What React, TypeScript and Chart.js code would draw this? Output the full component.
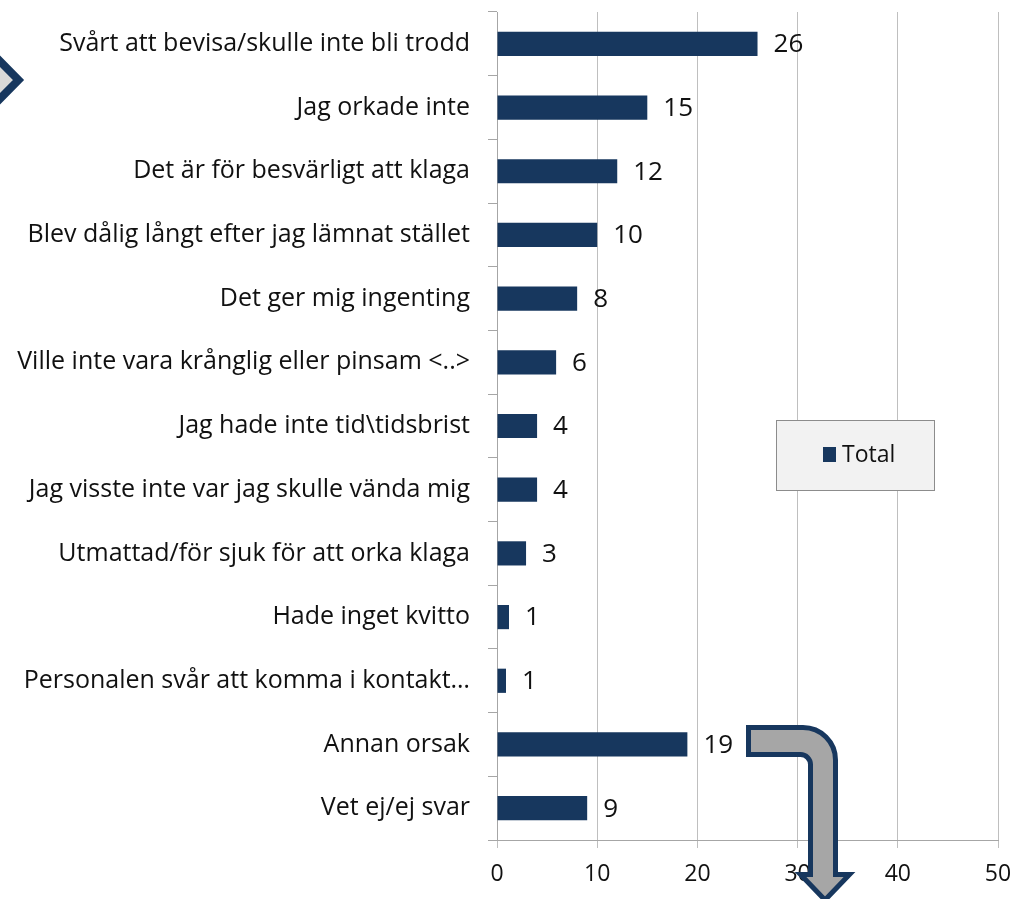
import React, { useEffect, useRef } from "react";
import { Chart, registerables } from "chart.js";

Chart.register(...registerables);

const categories = [
  "Svårt att bevisa/skulle inte bli trodd",
  "Jag orkade inte",
  "Det är för besvärligt att klaga",
  "Blev dålig långt efter jag lämnat stället",
  "Det ger mig ingenting",
  "Ville inte vara krånglig eller pinsam <..>",
  "Jag hade inte tid\\tidsbrist",
  "Jag visste inte var jag skulle vända mig",
  "Utmattad/för sjuk för att orka klaga",
  "Hade inget kvitto",
  "Personalen svår att komma i kontakt…",
  "Annan orsak",
  "Vet ej/ej svar",
];
const totalValues = [26, 15, 12, 10, 8, 5.9, 4, 4, 2.9, 1.2, 0.9, 19, 9];
const valueLabels = ["26", "15", "12", "10", "8", "6", "4", "4", "3", "1", "1", "19", "9"];
const xTicks = [0, 10, 20, 30, 40, 50];
const seriesName = "Total";

const NAVY = "#17375E";
const FONT = "'Open Sans', sans-serif";

const dataLabelPlugin = {
  id: "dataLabels",
  afterDatasetsDraw(chart: any) {
    const ctx = chart.ctx;
    const meta = chart.getDatasetMeta(0);
    ctx.save();
    ctx.font = `26px ${FONT}`;
    ctx.fillStyle = "#111";
    ctx.textAlign = "left";
    ctx.textBaseline = "middle";
    meta.data.forEach((el: any, i: number) => {
      ctx.fillText(valueLabels[i], el.x + 16, el.y + 1);
    });
    ctx.restore();
  },
};

const decorPlugin = {
  id: "decor",
  afterDraw(chart: any) {
    const ctx = chart.ctx;
    ctx.save();
    // legend box
    ctx.fillStyle = "#f2f2f2";
    ctx.strokeStyle = "#8c8c8c";
    ctx.lineWidth = 1;
    ctx.fillRect(776.5, 420.5, 158, 70);
    ctx.strokeRect(776.5, 420.5, 158, 70);
    ctx.fillStyle = NAVY;
    ctx.fillRect(823, 447, 13, 15);
    ctx.fillStyle = "#111";
    ctx.font = `23px ${FONT}`;
    ctx.textAlign = "left";
    ctx.textBaseline = "middle";
    ctx.fillText(chart.data.datasets[0].label, 842, 455);

    // left chevron
    ctx.beginPath();
    ctx.moveTo(-10, 51);
    ctx.lineTo(18.5, 80);
    ctx.lineTo(-10, 109);
    ctx.closePath();
    ctx.fillStyle = "#d9d9d9";
    ctx.fill();
    ctx.lineWidth = 8;
    ctx.lineJoin = "miter";
    ctx.strokeStyle = NAVY;
    ctx.stroke();

    // bent arrow
    ctx.beginPath();
    ctx.moveTo(748.5, 727.5);
    ctx.lineTo(803, 727.5);
    ctx.arc(803, 760, 32.5, -Math.PI / 2, 0);
    ctx.lineTo(835.5, 874.5);
    ctx.lineTo(849.5, 874.5);
    ctx.lineTo(825, 900);
    ctx.lineTo(800.5, 874.5);
    ctx.lineTo(810.5, 874.5);
    ctx.lineTo(810.5, 765);
    ctx.arcTo(810.5, 754.5, 800, 754.5, 10);
    ctx.lineTo(748.5, 754.5);
    ctx.closePath();
    ctx.fillStyle = "#a6a6a6";
    ctx.fill();
    ctx.lineWidth = 5;
    ctx.strokeStyle = NAVY;
    ctx.stroke();
    ctx.restore();
  },
};

export default function App() {
  const ref = useRef<HTMLCanvasElement | null>(null);
  useEffect(() => {
    if (!ref.current) return;
    const chart = new Chart(ref.current, {
      type: "bar",
      data: {
        labels: categories,
        datasets: [
          {
            label: seriesName,
            data: totalValues,
            backgroundColor: NAVY,
            borderWidth: 0,
            categoryPercentage: 1,
            barPercentage: 0.38,
          },
        ],
      },
      options: {
        indexAxis: "y",
        animation: false,
        responsive: false,
        maintainAspectRatio: false,
        layout: { padding: { top: 12, right: 16, left: 0, bottom: 0 } },
        plugins: { legend: { display: false }, tooltip: { enabled: false } },
        scales: {
          x: {
            min: 0,
            max: 50,
            afterBuildTicks(scale: any) {
              scale.ticks = xTicks.map((v) => ({ value: v }));
            },
            afterFit(scale: any) {
              scale.height = 59;
              scale.paddingLeft = 0;
              scale.paddingRight = 0;
            },
            grid: { color: "#bfbfbf", lineWidth: 1, drawTicks: true, tickLength: 8 },
            border: { display: true, color: "#a6a6a6" },
            ticks: {
              color: "#111",
              font: { family: FONT, size: 23 },
              padding: 13,
              maxRotation: 0,
            },
          },
          y: {
            afterFit(scale: any) {
              scale.width = 497;
              scale.paddingTop = 0;
              scale.paddingBottom = 0;
            },
            grid: { drawOnChartArea: false, drawTicks: true, tickLength: 9, color: "#a6a6a6" },
            border: { display: true, color: "#a6a6a6" },
            ticks: {
              color: "#111",
              font: { family: FONT, size: 25 },
              padding: 18,
              autoSkip: false,
            },
          },
        },
      },
      plugins: [dataLabelPlugin, decorPlugin],
    });
    return () => chart.destroy();
  }, []);
  return (
    <div style={{ position: "fixed", left: 0, top: 0, width: 1014, height: 899, background: "#fff" }}>
      <canvas ref={ref} width={1014} height={899} style={{ display: "block" }} />
    </div>
  );
}
